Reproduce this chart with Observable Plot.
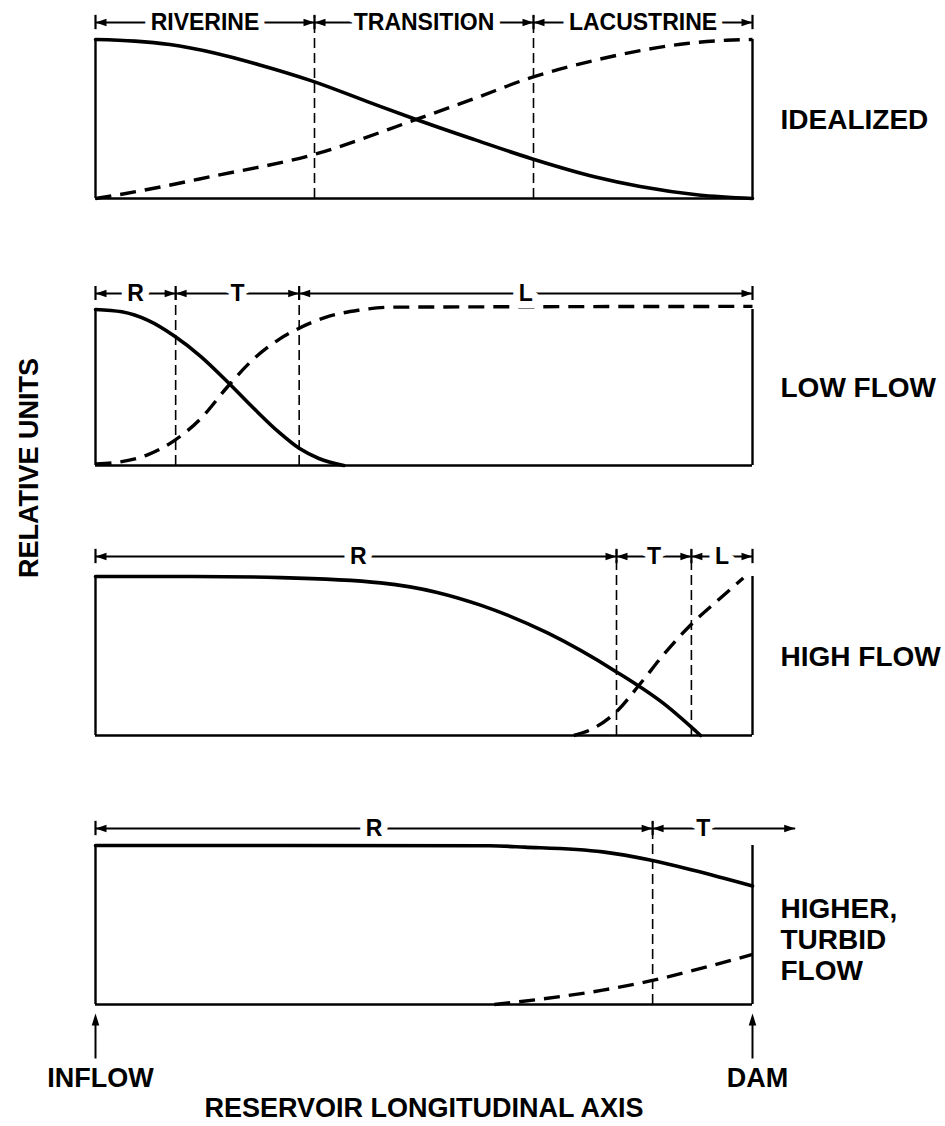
<!DOCTYPE html>
<html>
<head>
<meta charset="utf-8">
<script src="https://cdn.jsdelivr.net/npm/d3@7"></script>
<script src="https://cdn.jsdelivr.net/npm/@observablehq/plot@0.6"></script>
<style>
  body { margin: 0; background: #fff; }
  #fig { position: relative; width: 945px; height: 1126px; font-family: "Liberation Sans", Arial, Helvetica, sans-serif; }
  #fig svg { position: absolute; left: 0; }
  #ylab { position: absolute; left: 29px; top: 468px; transform: translate(-50%, -50%) rotate(-90deg);
          font-size: 27px; font-weight: bold; white-space: nowrap; color: #000; }
</style>
</head>
<body>
<div id="fig"><div id="ylab">RELATIVE UNITS</div></div>
<script>
// ---- data (x = fraction of reservoir length, y = relative units) ----
const panelNames = ["IDEALIZED", "LOW FLOW", "HIGH FLOW", "HIGHER,\nTURBID\nFLOW"];
const panelNameY = [0.5, 0.5, 0.5, 0.41];

const zoneBounds = [
  [0, 1 / 3, 2 / 3, 1],
  [0, 0.122, 0.31, 1],
  [0, 0.793, 0.907, 1],
  [0, 0.848, 1.065]
];
const zoneLabels = [
  ["RIVERINE", "TRANSITION", "LACUSTRINE"],
  ["R", "T", "L"],
  ["R", "T", "L"],
  ["R", "T"]
];
const zoneLabelX = [
  [null, null, null],
  [null, null, null],
  [0.4, null, null],
  [null, 0.925]
];

const idealSolid = [[0, 1], [0.06, 0.99], [0.113, 0.968], [0.181, 0.915], [0.25, 0.84], [0.329, 0.74],
  [0.42, 0.6], [0.488, 0.497], [0.577, 0.37], [0.664, 0.25], [0.761, 0.135], [0.829, 0.075],
  [0.918, 0.022], [1, 0]];
const idealDashed = [[0, 0], [0.044, 0.03], [0.181, 0.142], [0.329, 0.273], [0.488, 0.497], [0.577, 0.629],
  [0.664, 0.762], [0.761, 0.87], [0.829, 0.93], [0.9, 0.975], [0.96, 0.995], [1, 1]];

const lowSolid = [[0, 1], [0.04, 0.985], [0.08, 0.93], [0.12, 0.83], [0.16, 0.7], [0.2, 0.54], [0.24, 0.37],
  [0.28, 0.21], [0.31, 0.11], [0.34, 0.045], [0.378, 0]];
const lowDashed = [[0, 0.01], [0.04, 0.025], [0.08, 0.07], [0.12, 0.16], [0.16, 0.3], [0.2, 0.5], [0.24, 0.68],
  [0.28, 0.81], [0.31, 0.88], [0.35, 0.95], [0.4, 0.995], [0.45, 1.015], [1, 1.02]];

const highSolid = [[0, 1], [0.15, 1], [0.282, 0.993], [0.434, 0.96], [0.52, 0.9], [0.586, 0.82],
  [0.688, 0.645], [0.793, 0.4], [0.865, 0.2], [0.921, 0]];
const highDashed = [[0.728, 0], [0.76, 0.05], [0.793, 0.15], [0.83, 0.33], [0.865, 0.51], [0.907, 0.7],
  [0.95, 0.86], [0.986, 0.99]];

const turbidSolid = [[0, 1], [0.3, 1], [0.6, 0.998], [0.653, 0.99], [0.772, 0.96], [0.846, 0.907],
  [0.91, 0.844], [1, 0.745]];
const turbidDashed = [[0.607, 0], [0.68, 0.035], [0.772, 0.09], [0.846, 0.15], [0.92, 0.225], [1, 0.315]];

const solidCurves = [idealSolid, lowSolid, highSolid, turbidSolid];
const dashedCurves = [idealDashed, lowDashed, highDashed, turbidDashed];

const axisTitle = "RESERVOIR LONGITUDINAL AXIS";
const endLabels = [{x: 0, label: "INFLOW"}, {x: 1, label: "DAM"}];

// ---- layout ----
const panelTops = [39, 309, 576, 845];
const panelBottoms = [198, 465, 735, 1004];
const labelGap = [17, 16, 20, 17];
const MT = 40;
const FONT = '"Liberation Sans", Arial, Helvetica, sans-serif';

const rightHead = {draw(ctx) { ctx.moveTo(0, 0); ctx.lineTo(-11, -3.8); ctx.lineTo(-11, 3.8); ctx.closePath(); }};
const leftHead = {draw(ctx) { ctx.moveTo(0, 0); ctx.lineTo(11, -3.8); ctx.lineTo(11, 3.8); ctx.closePath(); }};
const upHead = {draw(ctx) { ctx.moveTo(0, 0); ctx.lineTo(-3.8, 12); ctx.lineTo(3.8, 12); ctx.closePath(); }};

const fig = document.getElementById("fig");

for (let i = 0; i < 4; i++) {
  const h = panelBottoms[i] - panelTops[i];
  const last = i === 3;
  const mb = last ? 1126 - panelBottoms[i] : 12;
  const ly = 1 + labelGap[i] / h;
  const b = zoneBounds[i];
  const segs = zoneLabels[i].map((label, j) => ({
    label, x1: b[j], x2: b[j + 1], y: ly,
    lx: zoneLabelX[i][j] != null ? zoneLabelX[i][j] : (b[j] + b[j + 1]) / 2
  }));
  const leftHeads = segs.map(s => ({x: s.x1, y: ly}));
  const rightHeads = segs.map(s => ({x: s.x2, y: ly}));
  const bars = b.filter(v => v <= 1).map(v => ({x: v}));
  const dividers = b.filter(v => v > 0 && v < 1).map(v => ({x: v}));
  const solid = solidCurves[i].map(([x, y]) => ({x, y}));
  const dashed = dashedCurves[i].map(([x, y]) => ({x, y}));

  const marks = [
    Plot.ruleY([0], {stroke: "black", strokeWidth: 2.6}),
    Plot.ruleX([0, 1], {y1: 0, y2: 1, stroke: "black", strokeWidth: 2.4}),
    Plot.ruleX(dividers, {x: "x", y1: 0, y2: ly + 0.04, stroke: "black", strokeWidth: 1.6, strokeDasharray: "10,5"}),
    Plot.line(dashed, {x: "x", y: "y", curve: "monotone-x", stroke: "black", strokeWidth: 3.4,
      strokeDasharray: "16,9", strokeLinecap: "butt"}),
    Plot.line(solid, {x: "x", y: "y", curve: "monotone-x", stroke: "black", strokeWidth: 3.6}),
    Plot.link(segs, {x1: "x1", x2: "x2", y1: "y", y2: "y", stroke: "black", strokeWidth: 1.8}),
    Plot.text(segs, {x: "lx", y: "y", text: "label", fill: "black", stroke: "white", strokeWidth: 14,
      fontSize: 23, fontWeight: "bold", fontFamily: FONT}),
    Plot.dot(leftHeads, {x: "x", y: "y", symbol: leftHead, r: 5, fill: "black", stroke: "none"}),
    Plot.dot(rightHeads, {x: "x", y: "y", symbol: rightHead, r: 5, fill: "black", stroke: "none"}),
    Plot.ruleX(bars, {x: "x", y1: ly - 0.045, y2: ly + 0.045, stroke: "black", strokeWidth: 2.2}),
    Plot.text([panelNames[i]], {x: 1, y: panelNameY[i], dx: 28, text: d => d, textAnchor: "start",
      fontSize: 28, fontWeight: "bold", fontFamily: FONT, lineHeight: 1.1, fill: "black"})
  ];

  if (last) {
    const below = v => -v / h; // pixels below the box -> data units
    marks.push(
      Plot.link(endLabels, {x1: "x", x2: "x", y1: below(54), y2: below(14), stroke: "black", strokeWidth: 2}),
      Plot.dot(endLabels, {x: "x", y: below(9), symbol: upHead, r: 5, fill: "black", stroke: "none"}),
      Plot.text(endLabels, {x: "x", y: 0, dy: 74, dx: 5, text: "label", fontSize: 27, fontWeight: "bold",
        fontFamily: FONT, fill: "black"}),
      Plot.text([axisTitle], {x: 0.5, y: 0, dy: 104, text: d => d, fontSize: 27, fontWeight: "bold",
        fontFamily: FONT, fill: "black"})
    );
  }

  const svg = Plot.plot({
    width: 945,
    height: MT + h + mb,
    marginTop: MT,
    marginBottom: mb,
    marginLeft: 95,
    marginRight: 945 - 752,
    x: {domain: [0, 1], axis: null},
    y: {domain: [0, 1], axis: null},
    style: {background: "transparent", overflow: "visible"},
    marks
  });
  svg.style.top = (panelTops[i] - MT) + "px";
  fig.appendChild(svg);
}
</script>
</body>
</html>
